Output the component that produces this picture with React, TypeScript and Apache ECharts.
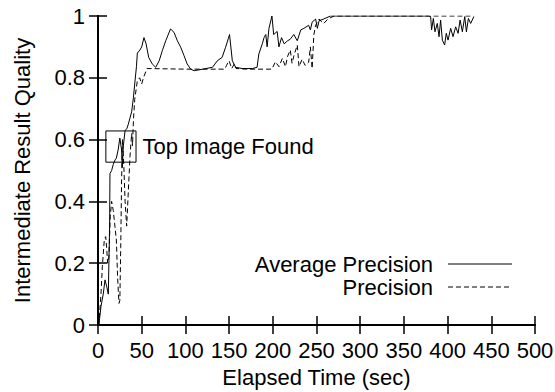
import React, { useEffect, useRef } from "react";
import * as echarts from "echarts";

const FONT = "'Liberation Sans', Arial, Helvetica, sans-serif";

// Average Precision (solid)
const avgTime = [0, 1, 3.4, 6, 8, 10, 11.8, 12.6, 13.3, 13.7, 15.6, 17.5, 19.5, 21, 23, 25, 27, 27.8, 29, 31, 33, 34.7, 36.6, 38.5, 40.5, 42, 44, 45, 48, 50, 52.6, 55, 58, 62, 66, 70, 73.6, 77.5, 83, 87, 90.8, 94.6, 98.4, 102, 106, 110, 120, 131, 136.5, 142, 146, 149, 150.5, 153.7, 157.5, 165, 176.6, 182, 184, 188, 190, 192, 193.5, 195.6, 199, 201, 205, 207, 210, 213, 217, 220, 224, 228, 232, 235.6, 241, 243, 245, 249, 251, 253, 258, 262, 266, 270, 300, 350, 378, 380.6, 381.7, 383.7, 385.6, 388.2, 390.2, 392, 394, 396.6, 398.5, 400.5, 403.5, 406.2, 409.2, 412, 414.3, 416.9, 419.6, 421.5, 423.8, 426.4, 430];
const avgValue = [0, 0, 0.06, 0.10, 0.146, 0.124, 0.10, 0.22, 0.32, 0.49, 0.50, 0.52, 0.534, 0.54, 0.566, 0.605, 0.566, 0.51, 0.58, 0.63, 0.635, 0.65, 0.67, 0.69, 0.735, 0.78, 0.836, 0.88, 0.89, 0.90, 0.93, 0.91, 0.866, 0.845, 0.834, 0.855, 0.888, 0.92, 0.958, 0.947, 0.92, 0.899, 0.872, 0.845, 0.828, 0.823, 0.828, 0.834, 0.855, 0.866, 0.899, 0.926, 0.94, 0.855, 0.834, 0.83, 0.83, 0.834, 0.877, 0.91, 0.93, 0.94, 0.90, 0.96, 1.0, 0.94, 0.95, 0.90, 0.93, 0.91, 0.92, 0.925, 0.94, 0.92, 0.955, 0.96, 0.97, 0.955, 0.98, 0.99, 0.96, 0.985, 0.99, 0.995, 1.0, 1.0, 1.0, 1.0, 1.0, 0.998, 0.955, 0.992, 0.949, 0.976, 0.933, 0.987, 0.922, 0.906, 0.944, 0.922, 0.96, 0.933, 0.965, 0.944, 0.987, 0.949, 0.998, 0.949, 0.992, 0.976, 0.998];

// Precision (dashed)
const precTime = [0, 1, 3.4, 5, 7.2, 8.8, 9.9, 11, 12.5, 14, 15.6, 17.5, 19, 21, 22.5, 24, 25, 26, 27, 28, 29.6, 31, 32.8, 34.5, 36.6, 38.5, 39.5, 40.5, 42, 45, 47.7, 50, 52, 56, 100, 145, 147, 150, 153, 156, 158, 170, 199, 203, 207, 211, 214.5, 217, 220, 222, 224, 228, 230, 233.6, 237, 241, 243, 245, 247, 249, 253, 258, 263, 270, 300, 350, 400, 430];
const precValue = [0, 0, 0.10, 0.19, 0.275, 0.286, 0.25, 0.20, 0.22, 0.35, 0.40, 0.37, 0.33, 0.275, 0.15, 0.07, 0.08, 0.25, 0.47, 0.60, 0.51, 0.40, 0.32, 0.42, 0.545, 0.62, 0.58, 0.66, 0.73, 0.79, 0.80, 0.78, 0.80, 0.83, 0.828, 0.828, 0.84, 0.855, 0.83, 0.845, 0.83, 0.828, 0.828, 0.852, 0.836, 0.863, 0.836, 0.87, 0.89, 0.847, 0.87, 0.906, 0.836, 0.86, 0.84, 0.85, 0.90, 0.83, 0.94, 0.97, 0.99, 0.975, 0.99, 1.0, 1.0, 1.0, 1.0, 1.0];

// "Top Image Found" box, in data coordinates [time, quality]
const boxFrom = [9, 0.628];
const boxTo = [43.5, 0.527];
const boxLabel = "Top Image Found";

const seriesNames = ["Average Precision", "Precision"];
const xTicks = { min: 0, max: 500, interval: 50 };
const yTicks = { min: 0, max: 1, interval: 0.2 };

const zip = (a: number[], b: number[]) => a.map((t, i) => [t, b[i]]);

export default function App() {
  const ref = useRef<HTMLDivElement>(null);
  useEffect(() => {
    if (!ref.current) return;
    const chart = echarts.init(ref.current, undefined, { renderer: "svg" });
    const axisLine = { show: true, lineStyle: { color: "#000", width: 2 } };
    const axisTick = { show: true, inside: true, length: 9, lineStyle: { color: "#000", width: 1.5 } };
    const labelStyle = { fontSize: 22, color: "#000", fontFamily: FONT };
    chart.setOption({
      animation: false,
      backgroundColor: "#fff",
      grid: { left: 98, right: 20, top: 16, bottom: 67, outerBoundsMode: "none", containLabel: false },
      xAxis: [
        {
          type: "value", position: "bottom", ...xTicks,
          axisLine, axisTick, splitLine: { show: false },
          axisLabel: { ...labelStyle, margin: 14 },
          name: "Elapsed Time (sec)", nameLocation: "middle", nameGap: 41,
          nameTextStyle: { ...labelStyle },
        },
        {
          type: "value", position: "top", ...xTicks,
          axisLine, axisTick, splitLine: { show: false }, axisLabel: { show: false },
        },
      ],
      yAxis: [
        {
          type: "value", position: "left", ...yTicks,
          axisLine, axisTick, splitLine: { show: false },
          axisLabel: { ...labelStyle, margin: 13, formatter: (v: number) => String(+v.toFixed(1)) },
          name: "Intermediate Result Quality", nameLocation: "middle", nameGap: 65,
          nameTextStyle: { ...labelStyle },
        },
        {
          type: "value", position: "right", ...yTicks,
          axisLine, axisTick, splitLine: { show: false }, axisLabel: { show: false },
        },
      ],
      series: [
        {
          name: seriesNames[0], type: "line", xAxisIndex: 0, yAxisIndex: 0,
          data: zip(avgTime, avgValue), showSymbol: false, symbol: "none",
          lineStyle: { color: "#000", width: 1 }, z: 3,
          markArea: {
            silent: true,
            itemStyle: { color: "rgba(0,0,0,0)", borderColor: "#000", borderWidth: 1 },
            label: { show: true, position: "right", distance: 6, ...labelStyle },
            data: [[{ name: boxLabel, coord: boxFrom }, { coord: boxTo }]],
          },
        },
        {
          name: seriesNames[1], type: "line", xAxisIndex: 0, yAxisIndex: 0,
          data: zip(precTime, precValue), showSymbol: false, symbol: "none",
          lineStyle: { color: "#000", width: 1, type: [5, 3] }, z: 2,
        },
      ],
      graphic: [
        { type: "text", x: 433, y: 264, style: { text: seriesNames[0], align: "right", verticalAlign: "middle", fontSize: 22, fontFamily: FONT, fill: "#000" } },
        { type: "line", shape: { x1: 448, y1: 264, x2: 512, y2: 264 }, style: { stroke: "#000", lineWidth: 1 } },
        { type: "text", x: 433, y: 287, style: { text: seriesNames[1], align: "right", verticalAlign: "middle", fontSize: 22, fontFamily: FONT, fill: "#000" } },
        { type: "line", shape: { x1: 448, y1: 287, x2: 512, y2: 287 }, style: { stroke: "#000", lineWidth: 1, lineDash: [5, 3] } },
      ],
    });
    return () => chart.dispose();
  }, []);
  return <div ref={ref} style={{ position: "fixed", left: 0, top: 0, width: 555, height: 392 }} />;
}
